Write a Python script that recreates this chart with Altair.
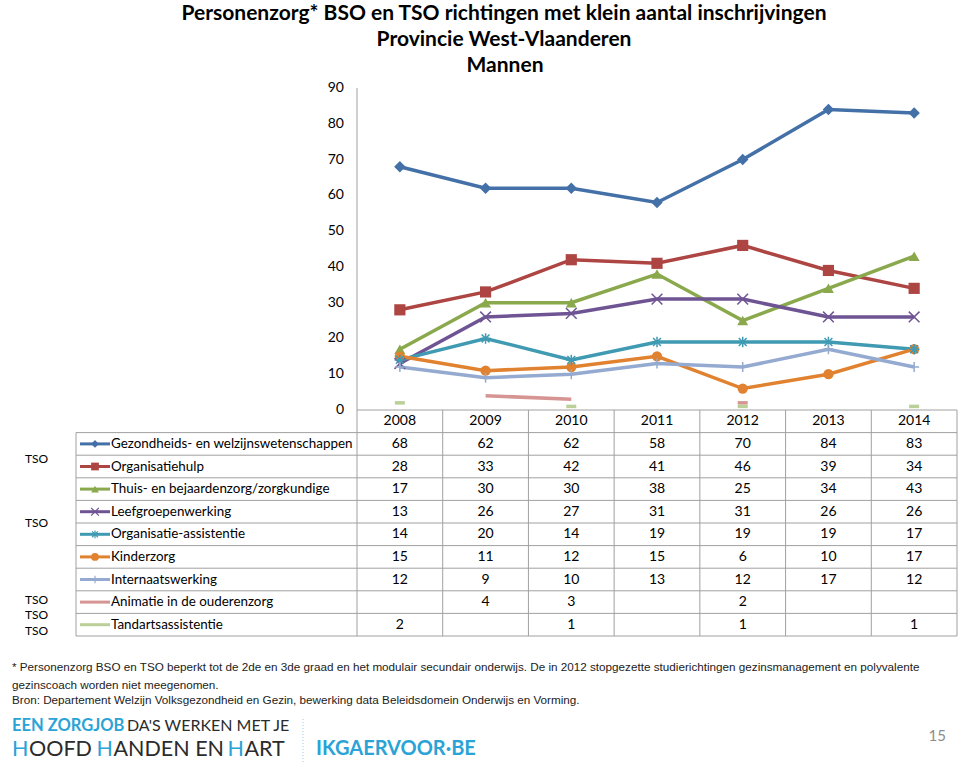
import altair as alt
import pandas as pd

years = [2008, 2009, 2010, 2011, 2012, 2013, 2014]
series_names = [
    "Gezondheids- en welzijnswetenschappen",
    "Organisatiehulp",
    "Thuis- en bejaardenzorg/zorgkundige",
    "Leefgroepenwerking",
    "Organisatie-assistentie",
    "Kinderzorg",
    "Internaatswerking",
    "Animatie in de ouderenzorg",
    "Tandartsassistentie",
]
gezondheid = [68, 62, 62, 58, 70, 84, 83]
organisatiehulp = [28, 33, 42, 41, 46, 39, 34]
thuiszorg = [17, 30, 30, 38, 25, 34, 43]
leefgroep = [13, 26, 27, 31, 31, 26, 26]
org_assistentie = [14, 20, 14, 19, 19, 19, 17]
kinderzorg = [15, 11, 12, 15, 6, 10, 17]
internaat = [12, 9, 10, 13, 12, 17, 12]
animatie = [None, 4, 3, None, 2, None, None]
tandarts = [2, None, 1, None, 1, None, 1]
series_values = [gezondheid, organisatiehulp, thuiszorg, leefgroep, org_assistentie,
                 kinderzorg, internaat, animatie, tandarts]

colors = ["#4470A8", "#AD4542", "#8AA84C", "#6F5494", "#3F9AB2", "#E0822F", "#94AAD1",
          "#D69593", "#BBCF98"]
side_labels = [("TSO", 1.67), ("TSO", 4.5), ("TSO", 7.9), ("TSO", 8.55), ("TSO", 9.3)]

title_lines = ["Personenzorg* BSO en TSO  richtingen met klein aantal inschrijvingen",
               "Provincie West-Vlaanderen", "Mannen"]
footnotes = [
    "* Personenzorg BSO en TSO beperkt tot de 2de en 3de graad en het modulair secundair onderwijs. De in 2012 stopgezette  studierichtingen  gezinsmanagement  en polyvalente",
    "gezinscoach worden niet meegenomen.",
    "Bron: Departement Welzijn Volksgezondheid  en Gezin, bewerking data Beleidsdomein  Onderwijs en Vorming.",
]
y_ticks = [0, 10, 20, 30, 40, 50, 60, 70, 80, 90]

# ---------- shapes / styles ----------
X_PATH = "M-1,-1L1,1M-1,1L1,-1"
AST_PATH = "M-1,0L1,0M0,-1L0,1M-0.75,-0.75L0.75,0.75M-0.75,0.75L0.75,-0.75"
PLUS_PATH = "M-1,0L1,0M0,-1L0,1"
marker_series = series_names[:7]
marker_shapes = ["diamond", "square", "triangle-up", X_PATH, AST_PATH, "circle", PLUS_PATH]
marker_sizes = [130, 100, 140, 120, 140, 170, 120]
filled_series = [series_names[i] for i in (0, 1, 2, 5)]
stroked_series = [series_names[i] for i in (3, 4, 6)]

# ---------- data frames ----------
line_rows, point_rows, dash_rows, table_rows = [], [], [], []
for si, (name, vals) in enumerate(zip(series_names, series_values)):
    runs, cur = [], []
    for y, v in zip(years, vals):
        if v is None:
            if cur:
                runs.append(cur)
            cur = []
        else:
            cur.append((y, v))
    if cur:
        runs.append(cur)
    for ri, run in enumerate(runs):
        if len(run) >= 2:
            for y, v in run:
                line_rows.append({"series": name, "year": y, "value": v, "seg": f"{si}-{ri}"})
        else:
            dash_rows.append({"series": name, "year": run[0][0], "value": run[0][1]})
    for y, v in zip(years, vals):
        if v is not None:
            if name in marker_series:
                point_rows.append({"series": name, "year": y, "value": v})
            table_rows.append({"series": name, "year": y, "row": si + 1, "label": str(v)})

lines_df = pd.DataFrame(line_rows)
points_df = pd.DataFrame(point_rows)
dash_df = pd.DataFrame(dash_rows)
table_df = pd.DataFrame(table_rows)
header_df = pd.DataFrame({"year": years, "row": 0, "label": [str(y) for y in years]})
names_df = pd.DataFrame({"series": series_names, "row": list(range(1, 10))})
vb_df = pd.DataFrame({"b": [y - 0.5 for y in years] + [years[-1] + 0.5]})
hb_df = pd.DataFrame({"r": [i + 0.5 for i in range(0, 10)]})
axis_df = pd.DataFrame({"r": [-0.5]})
side_df = pd.DataFrame({"t": [s[0] for s in side_labels], "row": [s[1] for s in side_labels]})
ticks_df = pd.DataFrame({"value": y_ticks})

# ---------- scales ----------
FONT = "Lato"
GRID = "#A0A0A0"
x_scale = alt.Scale(domain=[2007.5, 2014.5], range=[357, 957], nice=False, zero=False)
v_scale = alt.Scale(domain=[0, 90], range=[410, 88], nice=False, zero=True)
r_scale = alt.Scale(domain=[-0.5, 9.5], range=[410, 636], nice=False, zero=False)
color_enc = alt.Color("series:N", scale=alt.Scale(domain=series_names, range=colors), legend=None)
shape_enc = alt.Shape("series:N", scale=alt.Scale(domain=marker_series, range=marker_shapes), legend=None)

X = alt.X("year:Q", scale=x_scale, axis=None)
YV = alt.Y("value:Q", scale=v_scale, axis=None)
YR = alt.Y("row:Q", scale=r_scale, axis=None)

lines = alt.Chart(lines_df).mark_line(strokeWidth=3.5).encode(
    x=X, y=YV, color=color_enc, detail="seg:N")

pts_filled = alt.Chart(points_df[points_df.series.isin(filled_series)]).mark_point(
    filled=True, opacity=1).encode(
    x=X, y=YV, color=color_enc, shape=shape_enc,
    size=alt.Size("series:N", scale=alt.Scale(domain=marker_series, range=marker_sizes), legend=None))

pts_stroked = alt.Chart(points_df[points_df.series.isin(stroked_series)]).mark_point(
    filled=False, opacity=1, strokeWidth=1.5).encode(
    x=X, y=YV, color=color_enc, shape=shape_enc,
    size=alt.Size("series:N", scale=alt.Scale(domain=marker_series, range=marker_sizes), legend=None))

dashes = alt.Chart(dash_df).mark_rule(strokeWidth=3.5, xOffset=-5, x2Offset=5).encode(
    x=X, x2="year:Q", y=YV, color=color_enc)

# y axis via text labels on the value scale + axis line
ylabels = alt.Chart(ticks_df).mark_text(align="right", baseline="middle", font=FONT,
                                        fontSize=14, color="#000").encode(
    x=alt.value(344), y=YV, text="value:Q")
yline = alt.Chart(pd.DataFrame({"value": [0], "value2": [90]})).mark_rule(
    color=GRID, strokeWidth=1).encode(x=alt.value(357), y=YV, y2="value2:Q")

# ---------- table ----------
vgrid = alt.Chart(vb_df).mark_rule(color=GRID, strokeWidth=1).encode(
    x=alt.X("b:Q", scale=x_scale, axis=None), y=alt.value(410), y2=alt.value(636))
hgrid = alt.Chart(hb_df).mark_rule(color=GRID, strokeWidth=1).encode(
    y=alt.Y("r:Q", scale=r_scale, axis=None), x=alt.value(76), x2=alt.value(957))
haxis = alt.Chart(axis_df).mark_rule(color=GRID, strokeWidth=1).encode(
    y=alt.Y("r:Q", scale=r_scale, axis=None), x=alt.value(357), x2=alt.value(957))
leftb = alt.Chart(pd.DataFrame({"r": [0.5], "r2": [9.5]})).mark_rule(color=GRID, strokeWidth=1).encode(
    y=alt.Y("r:Q", scale=r_scale, axis=None), y2="r2:Q", x=alt.value(76))

header = alt.Chart(header_df).mark_text(font=FONT, fontSize=14, color="#000", baseline="middle").encode(
    x=X, y=YR, text="label:N")
cells = alt.Chart(table_df).mark_text(font=FONT, fontSize=14, color="#000", baseline="middle").encode(
    x=X, y=YR, text="label:N")
names = alt.Chart(names_df).mark_text(font=FONT, fontSize=13.4, color="#000", align="left",
                                      baseline="middle").encode(
    x=alt.value(111), y=YR, text="series:N")
sw_line = alt.Chart(names_df).mark_rule(strokeWidth=3).encode(
    x=alt.value(80), x2=alt.value(110), y=YR, color=color_enc)
sw_filled = alt.Chart(names_df[names_df.series.isin(filled_series)]).mark_point(
    filled=True, opacity=1, size=60).encode(
    x=alt.value(95), y=YR, color=color_enc, shape=shape_enc)
sw_stroked = alt.Chart(names_df[names_df.series.isin(stroked_series)]).mark_point(
    filled=False, opacity=1, size=60, strokeWidth=1.2).encode(
    x=alt.value(95), y=YR, color=color_enc, shape=shape_enc)
side = alt.Chart(side_df).mark_text(font=FONT, fontSize=12, color="#000", align="left",
                                    baseline="middle").encode(
    x=alt.value(25), y=YR, text="t:N")


def txt(text, x, y, size, color="#000", weight="normal", align="left", font=FONT, baseline="middle"):
    return alt.Chart(pd.DataFrame({"t": [text]})).mark_text(
        font=font, fontSize=size, color=color, fontWeight=weight, align=align,
        baseline=baseline).encode(x=alt.value(x), y=alt.value(y), text="t:N")


titles = [
    txt(title_lines[0], 504, 14, 21, weight="bold", align="center"),
    txt(title_lines[1], 504, 39.5, 21, weight="bold", align="center"),
    txt(title_lines[2], 505, 66, 21, weight="bold", align="center"),
]
foot = [
    txt(footnotes[0], 12, 667, 11.7, color="#222", font="Liberation Sans"),
    txt(footnotes[1], 12, 685, 11.7, color="#222", font="Liberation Sans"),
    txt(footnotes[2], 12, 700, 11.7, color="#222", font="Liberation Sans"),
]
BLUE = "#2AA3D6"
DARK = "#2B2B2B"
logo = [
    txt("EEN ZORGJOB", 12, 726, 16.5, color=BLUE, weight="bold"),
    txt("DA'S WERKEN MET JE", 127, 726, 16, color=DARK),
    txt("H", 12, 750, 21.5, color=BLUE),
    txt("OOFD", 29, 750, 21.5, color=DARK),
    txt("H", 96.5, 750, 21.5, color=BLUE),
    txt("ANDEN EN", 113.5, 750, 21.5, color=DARK),
    txt("H", 227.5, 750, 21.5, color=BLUE),
    txt("ART", 244.5, 750, 21.5, color=DARK),
    txt("IKGAERVOOR\u00b7BE", 316, 749, 20, color=BLUE, weight="bold"),
    txt("15", 946, 736, 15, color="#8C8C8C", align="right"),
]
divider = alt.Chart(pd.DataFrame({"a": [0]})).mark_rule(
    color="#9CC8E0", strokeDash=[1, 2], strokeWidth=1).encode(
    x=alt.value(303), y=alt.value(719), y2=alt.value(763))

chart = alt.layer(
    vgrid, hgrid, haxis, leftb, yline, ylabels,
    lines, dashes, pts_filled, pts_stroked,
    header, cells, names, sw_line, sw_filled, sw_stroked, side,
    *titles, *foot, *logo, divider,
).resolve_scale(y="independent", size="independent").properties(
    width=960, height=769, padding=0,
    autosize=alt.AutoSizeParams(type="none"),
    background="white",
).configure_view(stroke=None)

chart.save("out.html", embed_options={"renderer": "svg", "actions": False})
